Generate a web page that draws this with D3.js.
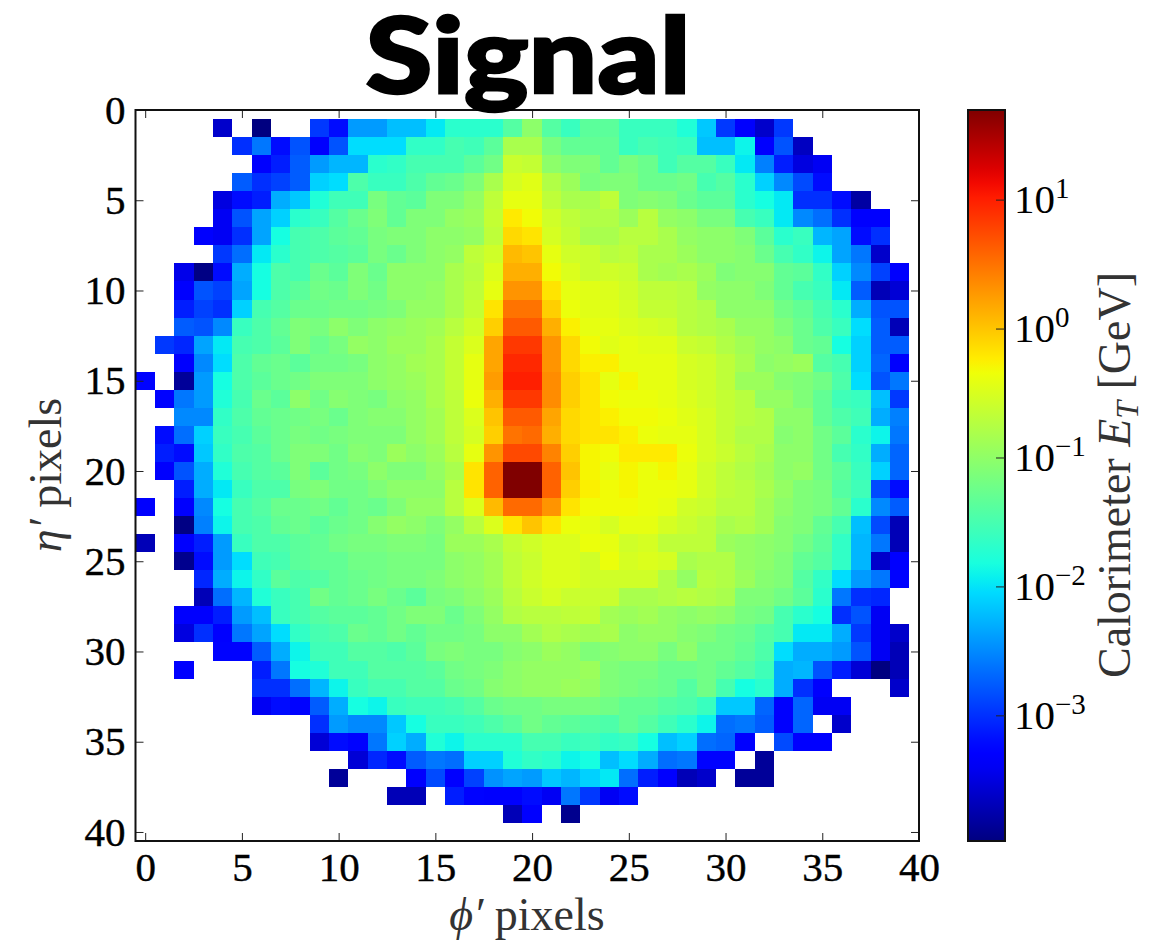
<!DOCTYPE html>
<html>
<head>
<meta charset="utf-8">
<script src="https://cdn.jsdelivr.net/npm/d3@7"></script>
<style>
  html, body { margin: 0; padding: 0; background: #fff; }
  svg { display: block; }
  text { font-family: "Liberation Serif", serif; fill: #000; }
</style>
</head>
<body>
<div id="chart"></div>
<script>
// Calorimeter cells, in log10(ET / GeV) x 10. _ = empty cell
const _ = null;
const row00 = [];
const row01 = [_,_,_,_,-36,_,-40,_,_,-29.5,-32,-24,-24,-22,-22,-20,-18,-18,-18,-15,-11,-15,-17,-14.5,-14.5,-17,-17,-17,-18.5,-21.5,-29.5,-33.5,-36,-29.5];
const row02 = [_,_,_,_,_,-30,-26,-32,-28,-33.5,-28,-20.5,-20.5,-20.5,-17.5,-17.5,-16,-16.5,-14.5,-9,-9,-12.5,-14,-14,-14,-17,-16,-16.5,-17,-22,-22,-19.5,-33,-28,-36.5];
const row03 = [_,_,_,_,_,_,-33.5,-31,-27.5,-24,-22.5,-22.5,-18,-17.5,-16,-16,-16,-14.5,-13,-6.5,-7,-11,-12,-12,-14,-12.5,-13.5,-16.5,-15,-15,-17,-20,-25.5,-31,-35,-34];
const row04 = [_,_,_,_,_,-27.5,-30,-29,-27.5,-21,-20.5,-15.5,-17,-17,-15.5,-14,-13.5,-12,-9,-5.5,-4.5,-8.5,-10,-12.5,-12,-12,-13.5,-13.5,-13,-16,-15,-18,-21,-25,-28.5,-32];
const row05 = [_,_,_,_,-35,-32,-31,-23,-21.5,-18.5,-16.5,-16.5,-12.5,-14,-14.5,-12,-12,-10.5,-7.5,-4,-4,-7.5,-9,-9,-7.5,-12,-11.5,-12,-13.5,-14.5,-14.5,-18,-19,-20,-30,-30,-32,-38];
const row06 = [_,_,_,_,-34,-28,-23.5,-21,-18,-17,-15,-13.5,-12,-14,-12,-12,-10.5,-10,-7,-1.5,-3,-6,-7.5,-8.5,-8.5,-10,-8,-10.5,-11,-12.5,-12.5,-16,-17,-20,-25,-26.5,-30,-33.5,-33.5];
const row07 = [_,_,_,-33.5,-34,-30,-23.5,-19,-16,-15.5,-14.5,-14,-12.5,-12,-12,-11,-11,-10.5,-7.5,-0.5,-1,-5.5,-7,-9,-9,-8,-8,-9,-10.5,-11,-11,-12,-14.5,-18,-17,-22.5,-23.5,-32,-30];
const row08 = [_,_,_,_,-29.5,-26.5,-20,-18,-16,-15.5,-15,-14.5,-12.5,-13.5,-12,-11,-10.5,-7.5,-6,1,0.5,-4,-6,-6.5,-8,-7.5,-9,-9,-10,-11,-11,-11.5,-13.5,-16,-17.5,-19.5,-23.5,-26,-36];
const row09 = [_,_,-34.5,-39.5,-32,-23,-19,-15.5,-16,-13.5,-14.5,-12,-13.5,-11,-11,-11,-9,-8,-5,1.5,1.5,-3,-5,-6.5,-6,-6.5,-9,-9.5,-9,-10,-12,-11.5,-11.5,-14,-14.5,-17.5,-21,-25,-29,-33.5];
const row10 = [_,_,-33.5,-28,-29,-23.5,-19,-15.5,-14.5,-13,-13.5,-12,-13,-11,-11,-10.5,-9,-7.5,-4,3,3,-1,-4,-4.5,-5,-6,-7.5,-7.5,-8,-10.5,-11,-11,-12,-14,-16,-17,-20,-27.5,-37,-35.5];
const row11 = [_,_,-31,-29,-30,-21,-16,-15,-13.5,-13.5,-13,-13,-12.5,-12,-10.5,-10.5,-9,-7,-1,5,5,0,-3.5,-4.5,-4.5,-5.5,-7,-7,-8,-8.5,-11,-11,-11,-13,-14,-16,-18,-23,-28,-28];
const row12 = [_,_,-27.5,-28,-25,-17,-15.5,-14,-12,-12.5,-11,-12,-11,-10.5,-10,-9.5,-8,-6,0,6.5,6.5,1.5,-2,-4,-4,-5,-5.5,-6,-8,-8.5,-9,-10.5,-10.5,-12,-13.5,-15.5,-17,-20.5,-27.5,-37];
const row13 = [_,-29.5,-30.5,-23.5,-20,-16,-15.5,-14.5,-12,-13.5,-12.5,-10.5,-11,-10,-10,-9,-7,-5,2,8.5,8.5,3,-0.5,-3,-4.5,-4,-4.5,-4.5,-6.5,-7,-8.5,-9.5,-10.5,-11,-13.5,-14,-19,-21,-27.5,-27.5];
const row14 = [_,_,-33.5,-25,-20.5,-15.5,-14,-13.5,-14.5,-13,-13,-12.5,-11,-10.5,-9.5,-9,-7,-4,2,9.5,9.5,3,-0.5,-2,-2,-4,-4,-4,-5.5,-6,-7.5,-9,-11,-10.5,-10,-15,-16,-21,-27,-33.5];
const row15 = [-32.5,_,-38.5,-24,-19,-15.5,-14.5,-13.5,-13,-12,-12,-12,-11,-10.5,-10,-9,-7,-4,2.5,10,10,3.5,0,-1,-4,-2.5,-4,-4,-5.5,-6,-7.5,-10,-10,-11.5,-12,-13,-15.5,-20.5,-28,-26];
const row16 = [_,-32.5,-26,-24,-18.5,-16,-13.5,-14.5,-11,-13,-11.5,-12,-12.5,-11,-10.5,-9,-7.5,-3.5,1.5,8.5,8.5,3.5,0,-1,-3,-3.5,-3.5,-4,-5,-6,-7,-8,-10.5,-10.5,-12,-14,-16.5,-17,-22,-29.5];
const row17 = [_,_,-25,-25,-17.5,-15.5,-14,-13.5,-13,-12.5,-13.5,-12,-11.5,-11.5,-10.5,-9.5,-7.5,-5,0.5,6.5,6.5,2,-0.5,-1,-2,-3,-3,-3.5,-4.5,-5.5,-7,-8,-8.5,-11,-11,-14,-15.5,-16.5,-23,-25.5];
const row18 = [_,-32,-26.5,-21,-17,-16,-14.5,-13.5,-12.5,-13,-12.5,-12,-12,-12,-10.5,-9.5,-7.5,-5.5,0,5,5.5,1.5,-0.5,-1,-1,-2,-3.5,-4,-4,-5.5,-7,-8.5,-8.5,-11.5,-11,-13,-14.5,-18,-19.5,-26];
const row19 = [_,-31,-32,-21.5,-17.5,-15.5,-15,-13.5,-12,-12,-13,-11.5,-12,-10,-11,-10,-8,-4,3,7.5,7.5,4,0,-2.5,-3,-1.5,-1.5,-1.5,-3.5,-5.5,-6.5,-8,-9,-11,-11,-13,-16,-17.5,-23,-27];
const row20 = [_,-33.5,-28,-23,-18.5,-16,-15,-14.5,-12,-14.5,-13,-12.5,-11,-12,-12,-10.5,-9,-1,6,17,17,6,0.5,-2.5,-4,-2.5,-3.5,-2.5,-4,-6,-7.5,-8.5,-9.5,-11,-10.5,-13,-14.5,-17,-21,-27];
const row21 = [_,_,-31,-23,-20,-17,-15.5,-15.5,-12.5,-12,-13,-13,-12,-11,-11,-11,-8,-1,6,17,17,6,0,-2,-3,-2.5,-3.5,-3.5,-4,-6,-7.5,-8,-9,-10.5,-12,-12.5,-15,-16.5,-28.5,-32];
const row22 = [-33.5,_,-33.5,-25,-19,-16,-15,-13.5,-13.5,-13,-14,-13,-13.5,-12,-10.5,-10.5,-8,-5,1,5.5,5.5,3,-1,-3,-3,-3,-3.5,-4,-6,-6.5,-8,-8,-9.5,-11,-12,-12.5,-14,-18,-25,-27.5];
const row23 = [_,_,-39.5,-25.5,-19.5,-16,-15.5,-14,-13.5,-14.5,-13.5,-13,-11.5,-10.5,-11,-12,-10.5,-8,-5,-1,0.5,-1,-3.5,-4,-5.5,-4,-4,-5.5,-6.5,-7.5,-9,-8.5,-9.5,-11.5,-12,-14,-16,-22,-28.5,-37];
const row24 = [-37,_,-33.5,-31,-24,-17,-15.5,-15.5,-14.5,-14,-13,-12.5,-12.5,-12,-12,-12.5,-10,-10,-9,-7,-6,-5,-5,-3.5,-4,-6,-5.5,-7.5,-7.5,-7.5,-10,-10.5,-11,-11.5,-13,-14.5,-17.5,-22.5,-26,-37];
const row25 = [_,_,-39,-32,-24,-20.5,-16.5,-16,-14.5,-14,-14,-13,-13,-12.5,-12.5,-12.5,-11,-10.5,-9.5,-7.5,-6.5,-5,-5,-6,-3.5,-5.5,-5,-5.5,-9,-8.5,-8.5,-10.5,-11,-12,-14,-15,-17.5,-22.5,-36,-33];
const row26 = [_,_,_,-30.5,-23,-19.5,-17.5,-14.5,-15.5,-15,-14,-13.5,-13,-12.5,-12.5,-12,-11,-10.5,-9.5,-7.5,-6,-5,-5,-6,-6,-6,-6,-8.5,-10.5,-8,-8.5,-10,-11.5,-12,-15,-17.5,-20.5,-24,-26,-32.5];
const row27 = [_,_,_,-37,-26.5,-22.5,-18.5,-17,-16,-13,-14,-13.5,-12.5,-13.5,-14.5,-12.5,-12,-11,-10,-8,-6.5,-5.5,-6.5,-6.5,-6.5,-9,-9,-8.5,-8,-8.5,-9,-12,-12,-13,-14.5,-18,-26,-30,-30.5];
const row28 = [_,_,-33.5,-33.5,-31,-24,-22,-17,-16,-15,-14.5,-14.5,-14,-13,-12,-12,-13.5,-12,-10.5,-8.5,-8,-8,-7.5,-7,-9.5,-10,-9.5,-10.5,-11,-10.5,-11,-12.5,-13,-16,-18,-19,-30,-28,-34];
const row29 = [_,_,-35,-30,-33,-26,-23.5,-20.5,-17.5,-16,-15.5,-13.5,-14,-13,-14,-13,-13,-12.5,-11,-11,-9.5,-8.5,-9,-9.5,-9,-11,-10.5,-10.5,-11.5,-12,-13,-13.5,-15,-16,-20,-20,-23,-29.5,-34,-36];
const row30 = [_,_,_,_,-32.5,-32.5,-27.5,-23,-19.5,-16.5,-16.5,-15,-15,-15.5,-14.5,-12.5,-12,-12.5,-12.5,-11.5,-11,-10,-10.5,-12,-11.5,-11,-11,-12.5,-11,-13,-13,-14,-15.5,-20.5,-23,-23,-24,-28,-34,-37];
const row31 = [_,_,-33,_,_,_,-31,-26,-19,-18.5,-16.5,-16.5,-15,-15,-15,-14.5,-13,-12.5,-12,-11,-10.5,-10.5,-10.5,-10,-12,-12.5,-12.5,-13.5,-13.5,-13,-14,-15,-16.5,-23,-22.5,-28,-31,-35.5,-40,-37];
const row32 = [_,_,_,_,_,_,-30,-30,-26.5,-22.5,-19.5,-17,-16,-16,-15,-15,-13.5,-13,-11.5,-11,-10.5,-10.5,-10,-10.5,-12,-12.5,-13,-13.5,-15,-13,-16,-19,-18,-23,-30,-33.5,_,_,_,-36];
const row33 = [_,_,_,_,_,_,-34,-32,-32.5,-27.5,-23,-19,-19.5,-17,-16.5,-16.5,-16,-15,-13.5,-13,-13,-12.5,-12.5,-12.5,-13,-14,-14,-15,-15.5,-17,-21.5,-21.5,-27,-33.5,-27,-34,-34];
const row34 = [_,_,_,_,_,_,_,_,_,-30,-24,-25,-25,-21.5,-19,-17,-17,-16.5,-15.5,-14.5,-13,-14,-14.5,-15,-15.5,-14,-15,-16.5,-18,-19.5,-26.5,-26,-27.5,-33.5,-27,_,-36];
const row35 = [_,_,_,_,_,_,_,_,_,-35.5,-32,-32.5,-26,-21,-23,-18.5,-19.5,-18,-18,-18,-16,-16,-17,-16.5,-17.5,-17,-19,-22,-21,-26.5,-27,-33,_,-28.5,-33,-33];
const row36 = [_,_,_,_,_,_,_,_,_,_,_,-35.5,-30.5,-32,-27.5,-26,-26.5,-21,-21,-18.5,-17.5,-18,-19.5,-19,-22,-20.5,-23,-26.5,-26,-32.5,-32.5,_,-38.5];
const row37 = [_,_,_,_,_,_,_,_,_,_,-38.5,_,_,_,-33.5,-28.5,-33,-29,-24.5,-23.5,-24,-21.5,-22.5,-21,-20,-26.5,-31,-33,-37,-36,_,-38.5,-38.5];
const row38 = [_,_,_,_,_,_,_,_,_,_,_,_,_,-37,-37,_,-31,-32.5,-33.5,-33.5,-32,-34,-26,-29.5,-34,-32];
const row39 = [_,_,_,_,_,_,_,_,_,_,_,_,_,_,_,_,_,_,_,-37,-33,_,-39];

const rows = [row00, row01, row02, row03, row04, row05, row06, row07, row08, row09,
    row10, row11, row12, row13, row14, row15, row16, row17, row18, row19,
    row20, row21, row22, row23, row24, row25, row26, row27, row28, row29,
    row30, row31, row32, row33, row34, row35, row36, row37, row38, row39];

const xTicks = [0, 5, 10, 15, 20, 25, 30, 35, 40];
const yTicks = [0, 5, 10, 15, 20, 25, 30, 35, 40];
const barTicks = [1e-3, 1e-2, 1e-1, 1, 10];
const barExponents = ["\u22123", "\u22122", "\u22121", "0", "1"];
const barRange = [1.07e-4, 50];

// Set up the dimensions
const frame = { left: 135.5, right: 919, top: 110, bottom: 841 };
const bar = { left: 968, right: 1005 };

const svg = d3.select("#chart")
    .append("svg")
    .attr("width", 1154)
    .attr("height", 941);

// Create scales
const x = d3.scaleLinear().domain([-0.5, 40]).range([frame.left, frame.right]);
const y = d3.scaleLinear().domain([0, 40.5]).range([frame.top, frame.bottom]);
const logNorm = d3.scaleLog().domain(barRange).range([0, 1]);
const barY = d3.scaleLog().domain(barRange).range([frame.bottom, frame.top]);

// The colour readings ran low through the green band and high in the yellow
const reading = d3.scaleLinear()
    .domain([-40, -21, -18, -8, -4, -1, 2, 20])
    .range([-40, -21, -17, -7.2, -4, -1.8, 2, 20]);

// Jet colormap
const jetR = d3.scaleLinear().domain([0, 0.35, 0.66, 0.89, 1]).range([0, 0, 255, 255, 128]).clamp(true);
const jetG = d3.scaleLinear().domain([0, 0.125, 0.375, 0.64, 0.91, 1]).range([0, 0, 255, 255, 0, 0]).clamp(true);
const jetB = d3.scaleLinear().domain([0, 0.11, 0.34, 0.65, 1]).range([128, 255, 255, 0, 0]).clamp(true);
const jet = t => `rgb(${Math.round(jetR(t))},${Math.round(jetG(t))},${Math.round(jetB(t))})`;

// Flatten rows into cells
const cells = [];
rows.forEach((row, r) => {
    row.forEach((v, c) => {
        if (v !== null) cells.push({ r, c, et: Math.pow(10, reading(v) / 10) });
    });
});

svg.append("g")
    .selectAll("rect")
    .data(cells)
    .enter()
    .append("rect")
    .attr("x", d => x(d.c - 0.5))
    .attr("y", d => y(d.r - 0.5))
    .attr("width", x(1) - x(0))
    .attr("height", y(1) - y(0))
    .attr("shape-rendering", "crispEdges")
    .attr("fill", d => jet(logNorm(d.et)));

// Add axes, ticks point inward on all four sides
const tickLen = 8;
function styleAxis(g) {
    g.select(".domain").remove();
    g.selectAll("line").attr("stroke", "#222").attr("stroke-width", 1);
    g.selectAll("text")
        .style("font-family", '"Liberation Serif", serif')
        .style("font-size", "41px")
        .style("fill", "#000")
        .attr("stroke", "#000")
        .attr("stroke-width", 0.4);
}

svg.append("g")
    .attr("transform", `translate(0,${frame.bottom})`)
    .call(d3.axisBottom(x).tickValues(xTicks).tickFormat(d3.format("d")).tickSizeInner(-tickLen).tickSizeOuter(0).tickPadding(11))
    .call(styleAxis);

svg.append("g")
    .attr("transform", `translate(0,${frame.top})`)
    .call(d3.axisTop(x).tickValues(xTicks.slice(0, -1)).tickFormat("").tickSizeInner(-tickLen).tickSizeOuter(0))
    .call(styleAxis);

svg.append("g")
    .attr("transform", `translate(${frame.left},0)`)
    .call(d3.axisLeft(y).tickValues(yTicks).tickFormat(d3.format("d")).tickSizeInner(-tickLen).tickSizeOuter(0).tickPadding(10))
    .call(styleAxis);

svg.append("g")
    .attr("transform", `translate(${frame.right},0)`)
    .call(d3.axisRight(y).tickValues(yTicks).tickFormat("").tickSizeInner(-tickLen).tickSizeOuter(0))
    .call(styleAxis);

svg.append("rect")
    .attr("x", frame.left)
    .attr("y", frame.top)
    .attr("width", frame.right - frame.left)
    .attr("height", frame.bottom - frame.top)
    .attr("fill", "none")
    .attr("stroke", "#111")
    .attr("stroke-width", 2);

// Axis labels
const xLabel = svg.append("text")
    .attr("x", 527)
    .attr("y", 930)
    .attr("text-anchor", "middle")
    .style("font-size", "46px")
    .style("fill", "#333");
xLabel.append("tspan").style("font-style", "italic").text("\u03d5\u2032");
xLabel.append("tspan").text(" pixels");

const yLabel = svg.append("text")
    .attr("transform", "translate(61,475) rotate(-90)")
    .attr("text-anchor", "middle")
    .style("font-size", "46px")
    .style("fill", "#333");
yLabel.append("tspan").style("font-style", "italic").text("\u03b7\u2032");
yLabel.append("tspan").text(" pixels");

// Colorbar
const stops = d3.range(0, 1.001, 0.02);
const gradient = svg.append("defs")
    .append("linearGradient")
    .attr("id", "jetBar")
    .attr("x1", 0).attr("x2", 0)
    .attr("y1", 1).attr("y2", 0);
gradient.selectAll("stop")
    .data(stops)
    .enter()
    .append("stop")
    .attr("offset", d => d)
    .attr("stop-color", d => jet(d));

svg.append("rect")
    .attr("x", bar.left)
    .attr("y", frame.top)
    .attr("width", bar.right - bar.left)
    .attr("height", frame.bottom - frame.top)
    .attr("fill", "url(#jetBar)")
    .attr("stroke", "#111")
    .attr("stroke-width", 2);

const barAxis = svg.append("g")
    .selectAll("g")
    .data(barTicks)
    .enter()
    .append("g")
    .attr("transform", d => `translate(0,${barY(d)})`);

barAxis.append("line")
    .attr("x1", bar.right - 9)
    .attr("x2", bar.right)
    .attr("stroke", "#222");

const barLabels = barAxis.append("text")
    .attr("x", 1014)
    .attr("y", 13)
    .style("font-size", "41px");
barLabels.append("tspan").text("10");
barLabels.append("tspan")
    .attr("dy", -15)
    .style("font-size", "29px")
    .text((d, i) => barExponents[i]);

const barTitle = svg.append("text")
    .attr("transform", "translate(1130,475) rotate(-90)")
    .attr("text-anchor", "middle")
    .style("font-size", "46px")
    .style("fill", "#333");
barTitle.append("tspan").text("Calorimeter ");
barTitle.append("tspan").style("font-style", "italic").text("E");
barTitle.append("tspan").style("font-style", "italic").style("font-size", "32px").attr("dy", 8).text("T");
barTitle.append("tspan").attr("dy", -8).text(" [GeV]");

// Title sits over the top of the frame
svg.append("text")
    .attr("x", 528)
    .attr("y", 93)
    .attr("text-anchor", "middle")
    .attr("textLength", 325)
    .attr("lengthAdjust", "spacingAndGlyphs")
    .attr("stroke", "#000")
    .attr("stroke-width", 2.5)
    .style("font-family", "Lato, sans-serif")
    .style("font-weight", 900)
    .style("font-size", "104px")
    .text("Signal");
</script>
</body>
</html>
